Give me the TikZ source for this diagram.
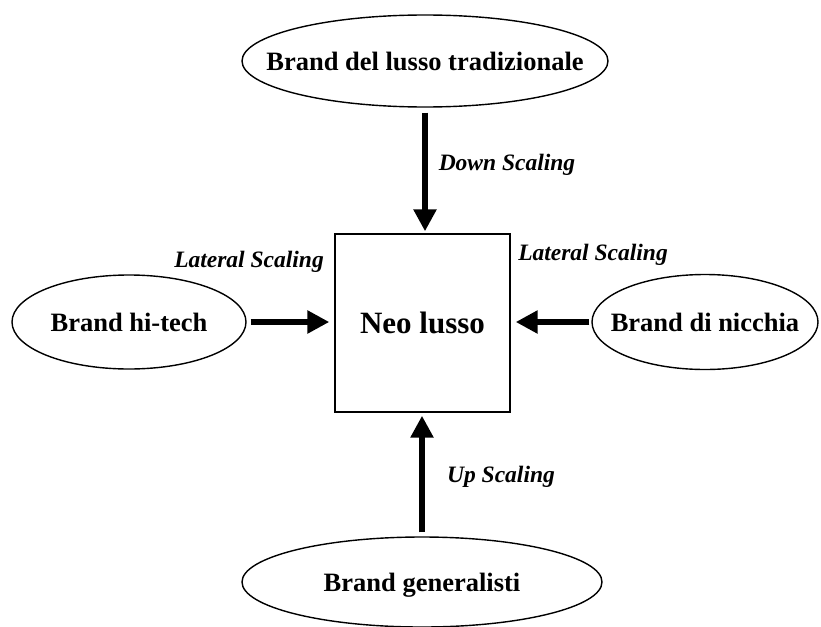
\documentclass[tikz,border=0pt]{standalone}
\usepackage{fontspec}
\setmainfont{Liberation Serif}
\usetikzlibrary{shapes.geometric,arrows.meta}
\newcommand{\zbox}[1]{\makebox[0pt]{\smash{#1}}}
\begin{document}
\begin{tikzpicture}[x=1pt,y=-1pt,
  brand/.style={draw, ellipse, line width=1.4pt, inner sep=0pt,
    font=\fontsize{26.5}{30}\selectfont\bfseries},
  core/.style={draw, rectangle, line width=1.4pt, inner sep=0pt,
    minimum width=175pt, minimum height=178pt,
    font=\fontsize{31}{34}\selectfont\bfseries},
  lbl/.style={font=\fontsize{23.5}{26}\selectfont\bfseries\itshape, inner sep=0pt},
  bigarrow/.style={line width=6pt, -{Triangle[width=22pt,length=22pt]}}
]
\useasboundingbox (0,0) rectangle (821,626);
\node[brand, minimum width=366pt, minimum height=92pt] (top) at (425,61) {\zbox{\raisebox{-0.35em}{Brand del lusso tradizionale}}};
\node[brand, minimum width=234pt, minimum height=94pt] (left) at (129,322) {\zbox{\raisebox{-0.35em}{Brand hi-tech}}};
\node[brand, minimum width=226pt, minimum height=95pt] (right) at (705,322) {\zbox{\raisebox{-0.35em}{Brand di nicchia}}};
\node[brand, minimum width=360pt, minimum height=90pt] (bottom) at (422,582) {\zbox{\raisebox{-0.35em}{Brand generalisti}}};
\node[core] (sq) at (422.5,323) {Neo lusso};
\draw[bigarrow, shorten <=5pt, shorten >=2pt] (top.south) -- (top.south |- sq.north);
\draw[bigarrow, shorten <=4pt, shorten >=5pt] (left.east) -- (sq.west |- left.east);
\draw[bigarrow, shorten <=2pt, shorten >=5pt] (right.west) -- (sq.east |- right.west);
\draw[bigarrow, shorten <=4pt, shorten >=3pt] (bottom.north) -- (bottom.north |- sq.south);
\node[lbl] (ldown) at (507,165) {Down Scaling};
\node[lbl] (llat1) at (249,262) {Lateral Scaling};
\node[lbl] (llat2) at (593,255) {Lateral Scaling};
\node[lbl] (lup) at (501,477) {Up Scaling};
\end{tikzpicture}
\end{document}
